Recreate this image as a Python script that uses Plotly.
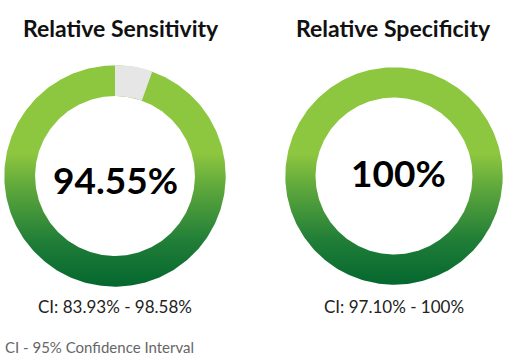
import numpy as np
import plotly.graph_objects as go

# ---- data ----
titles = ["Relative Sensitivity", "Relative Specificity"]
values = [94.55, 100.0]
center_labels = ["94.55%", "100%"]
ci_labels = ["CI: 83.93% - 98.58%", "CI: 97.10% - 100%"]
footnote = "CI - 95% Confidence Interval"

# ---- layout geometry (pixels) ----
W, H = 512, 360
centers = [(115, 176), (394, 176)]
radii = [111, 109]
hole = 0.72
light, dark, gray = "#8dc63f", "#05672f", "#e6e6e6"
font = "Lato"

fig = go.Figure()

theta = np.linspace(0, 2 * np.pi, 361)
for (cx, cy), r in zip(centers, radii):
    yc = H - cy
    # gradient disc (decoration behind each donut)
    fig.add_trace(go.Scatter(
        x=cx + (r - 0.3) * np.cos(theta), y=yc + (r - 0.3) * np.sin(theta),
        mode="lines", line=dict(width=0), fill="toself",
        fillgradient=dict(type="vertical",
                          colorscale=[[0, dark], [0.2, "#1f7d37"], [0.45, "#5fa83c"],
                                      [0.6, light], [1, light]]),
        hoverinfo="skip", showlegend=False))
    # white centre
    fig.add_trace(go.Scatter(
        x=cx + r * hole * np.cos(theta), y=yc + r * hole * np.sin(theta),
        mode="lines", line=dict(width=0), fill="toself", fillcolor="white",
        hoverinfo="skip", showlegend=False))

for i, ((cx, cy), r) in enumerate(zip(centers, radii)):
    v = values[i]
    fig.add_trace(go.Pie(
        values=[100 - v, v], labels=["Remainder", "Value"],
        hole=hole, sort=False, direction="clockwise", rotation=0,
        marker=dict(colors=[gray, "rgba(0,0,0,0)"], line=dict(width=0)),
        textinfo="none", hoverinfo="skip", showlegend=False,
        domain=dict(x=[(cx - r) / W, (cx + r) / W],
                    y=[(H - cy - r) / H, (H - cy + r) / H])))

ann = []
title_x = [121, 393]
label_y = [179, 172]
for i, (cx, cy) in enumerate(centers):
    ann.append(dict(text=titles[i], x=title_x[i], y=H - 28, xref="x", yref="y",
                    showarrow=False, font=dict(family=font, size=23, color="#111111", weight="bold")))
    ann.append(dict(text=center_labels[i], x=cx + (0 if i == 0 else 4), y=H - label_y[i],
                    xref="x", yref="y", showarrow=False,
                    font=dict(family=font, size=37, color="#000000", weight="bold")))
    ann.append(dict(text=ci_labels[i], x=cx, y=H - 306, xref="x", yref="y",
                    showarrow=False, font=dict(family=font, size=17, color="#222222")))
ann.append(dict(text=footnote, x=3, y=H - 347, xref="x", yref="y", xanchor="left",
                showarrow=False, font=dict(family=font, size=15, color="#666666")))

fig.update_layout(
    width=W, height=H, margin=dict(l=0, r=0, t=0, b=0),
    paper_bgcolor="white", plot_bgcolor="white",
    xaxis=dict(range=[0, W], visible=False, fixedrange=True),
    yaxis=dict(range=[0, H], visible=False, fixedrange=True),
    annotations=ann,
)
fig.write_html("out.html", config={"displayModeBar": False},
               post_script="document.body.style.margin='0';")
